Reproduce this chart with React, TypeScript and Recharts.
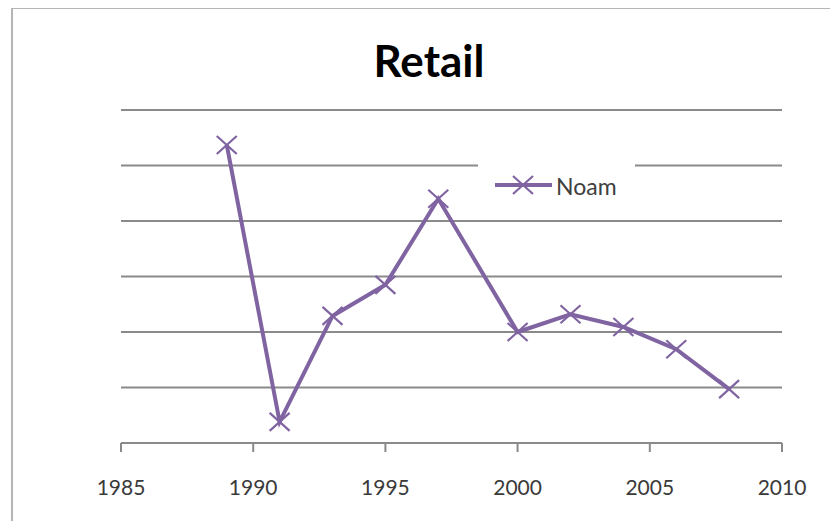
import React from "react";
import { LineChart, Line, XAxis, YAxis, CartesianGrid, Legend } from "recharts";

const years = [1989, 1991, 1993, 1995, 1997, 2000, 2002, 2004, 2006, 2008];
const noam = [5.37, 0.38, 2.29, 2.85, 4.4, 2.0, 2.32, 2.09, 1.69, 0.97];
const xTicks = [1985, 1990, 1995, 2000, 2005, 2010];
const yTicks = [0, 1, 2, 3, 4, 5, 6];

const data = years.map((year, i) => ({ year, Noam: noam[i] }));

const PURPLE = "#8064A2";
const GRID = "#8a8a8a";
const FONT = "Lato, 'Open Sans', sans-serif";

const XMark = (props: any) => {
  const { cx, cy } = props;
  if (cx == null || cy == null) return null;
  const w = 10;
  const h = 9;
  return (
    <g>
      <line x1={cx - w} y1={cy - h} x2={cx + w} y2={cy + h} stroke={PURPLE} strokeWidth={2.2} />
      <line x1={cx - w} y1={cy + h} x2={cx + w} y2={cy - h} stroke={PURPLE} strokeWidth={2.2} />
    </g>
  );
};

const LegendBox = () => (
  <div style={{ width: 157, height: 56, background: "#fff", position: "relative" }}>
    <svg width={157} height={56} style={{ position: "absolute", left: 0, top: 0 }}>
      <line x1={17} y1={33} x2={74} y2={33} stroke={PURPLE} strokeWidth={4} />
      <XMark cx={45} cy={33} />
      <text x={78} y={35} dy="0.35em" fontFamily={FONT} fontSize={23} fill="#404040">
        Noam
      </text>
    </svg>
  </div>
);

export default function App() {
  return (
    <div
      style={{
        position: "relative",
        width: 838,
        height: 529,
        margin: -8,
        overflow: "hidden",
        background: "#fff",
      }}
    >
      <div
        style={{
          position: "absolute",
          left: 11,
          top: 7,
          width: 860,
          height: 560,
          border: "2px solid #b5b5b5",
          boxSizing: "border-box",
        }}
      />
      <div
        style={{
          position: "absolute",
          left: 0,
          width: 858,
          top: 33,
          textAlign: "center",
          fontFamily: FONT,
          fontWeight: 700,
          fontSize: 44,
          lineHeight: "54px",
          color: "#000",
        }}
      >
        Retail
      </div>
      <div style={{ position: "absolute", left: 0, top: 0 }}>
        <LineChart
          width={838}
          height={529}
          data={data}
          margin={{ top: 110, right: 56, bottom: 0, left: 121 }}
        >
          <CartesianGrid vertical={false} stroke={GRID} strokeWidth={2} />
          <XAxis
            dataKey="year"
            type="number"
            domain={[1985, 2010]}
            ticks={xTicks}
            interval={0}
            stroke={GRID}
            strokeWidth={2}
            tickSize={9}
            tickMargin={28}
            tick={{ fill: "#3a3a3a", fontSize: 21, fontFamily: FONT }}
            height={86}
          />
          <YAxis hide domain={[0, 6]} ticks={yTicks} width={0} />
          <Legend
            layout="horizontal"
            verticalAlign="middle"
            align="center"
            content={() => <LegendBox />}
            wrapperStyle={{ position: "absolute", left: 478, top: 152, width: 157, height: 56 }}
          />
          <Line
            type="linear"
            dataKey="Noam"
            stroke={PURPLE}
            strokeWidth={4}
            dot={<XMark />}
            activeDot={false}
            isAnimationActive={false}
          />
        </LineChart>
      </div>
    </div>
  );
}
